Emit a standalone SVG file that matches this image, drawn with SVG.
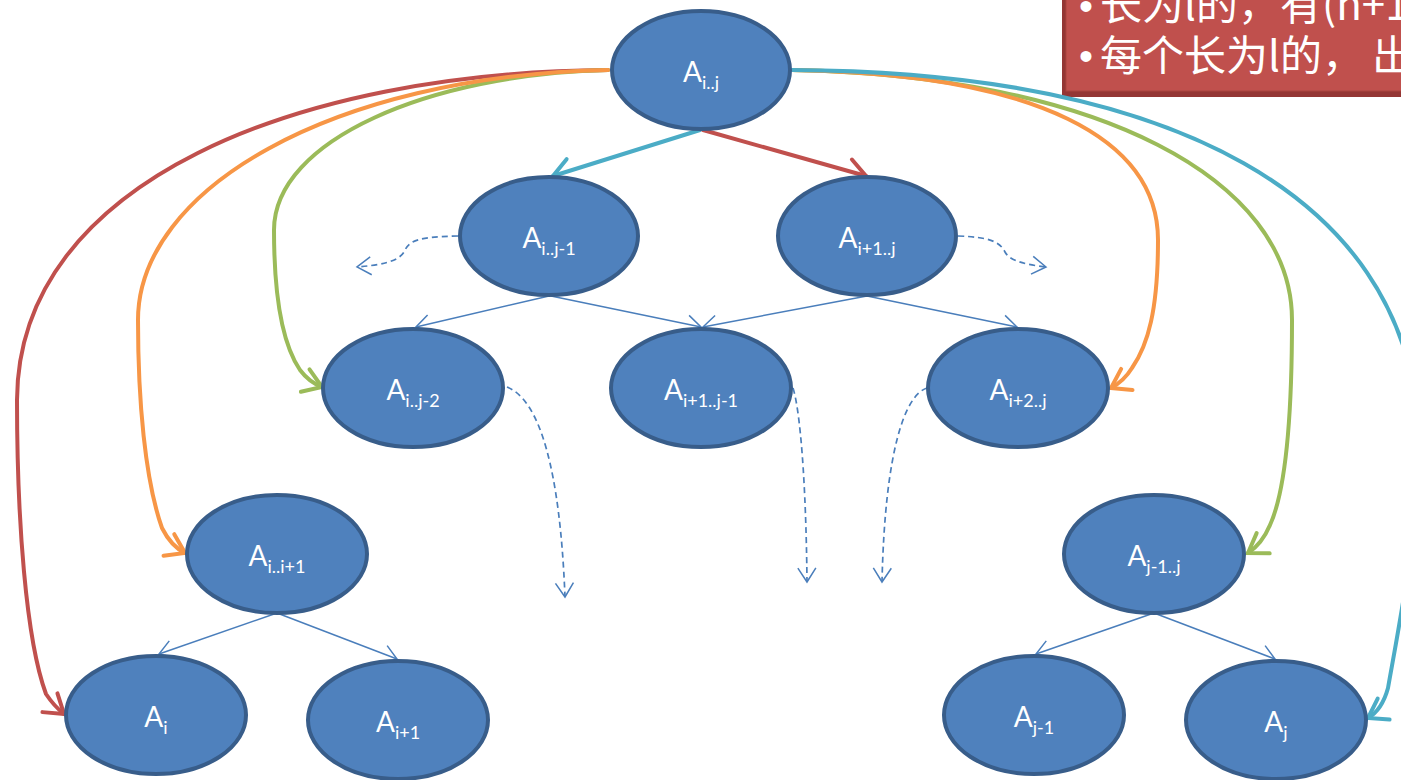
<svg xmlns="http://www.w3.org/2000/svg" width="1401" height="780" viewBox="0 0 1401 780">
<style>
.node ellipse{fill:#4F81BD;stroke:#385D8A;stroke-width:4}
.node text{font-family:Lato,"Open Sans","Liberation Sans",sans-serif;font-size:28px;fill:#FFFFFF;text-anchor:middle}
.node tspan{font-size:18px}
.thick{fill:none;stroke-width:4;stroke-linecap:round}
.thin{fill:none;stroke:#4A7EBB;stroke-width:1.5}
.dash{fill:none;stroke:#4A7EBB;stroke-width:1.7;stroke-dasharray:6 4}
.note{font-family:"Noto Sans CJK SC","Liberation Sans",sans-serif;font-size:42px;fill:#FFFFFF}
.bullet{font-family:"Liberation Sans",sans-serif;font-size:40px;fill:#FFFFFF}
</style>
<defs>
<marker id="mThin" markerUnits="userSpaceOnUse" markerWidth="30" markerHeight="30" refX="0" refY="0" orient="auto" overflow="visible">
<path d="M -14 -9 L 0 0 L -14 9" fill="none" stroke="#4A7EBB" stroke-width="1.5" stroke-dasharray="none"/>
</marker>
<marker id="mRed" markerUnits="userSpaceOnUse" markerWidth="30" markerHeight="30" refX="0" refY="0" orient="auto" overflow="visible">
<path d="M -18 -12 L 0 0 L -18 12" fill="none" stroke="#C0504D" stroke-width="4" stroke-linecap="round"/>
</marker>
<marker id="mOrange" markerUnits="userSpaceOnUse" markerWidth="30" markerHeight="30" refX="0" refY="0" orient="auto" overflow="visible">
<path d="M -18 -12 L 0 0 L -18 12" fill="none" stroke="#F79646" stroke-width="4" stroke-linecap="round"/>
</marker>
<marker id="mGreen" markerUnits="userSpaceOnUse" markerWidth="30" markerHeight="30" refX="0" refY="0" orient="auto" overflow="visible">
<path d="M -18 -12 L 0 0 L -18 12" fill="none" stroke="#9BBB59" stroke-width="4" stroke-linecap="round"/>
</marker>
<marker id="mCyan" markerUnits="userSpaceOnUse" markerWidth="30" markerHeight="30" refX="0" refY="0" orient="auto" overflow="visible">
<path d="M -18 -12 L 0 0 L -18 12" fill="none" stroke="#4BACC6" stroke-width="4" stroke-linecap="round"/>
</marker>
</defs>
<rect width="1401" height="780" fill="#FFFFFF"/>

<g id="note">
<rect x="1062" y="-20" width="400" height="117" fill="#943634"/>
<rect x="1066" y="-20" width="400" height="111" fill="#C0504D" stroke="#A9443F" stroke-width="1"/>
<text class="bullet" x="1079" y="20">•</text>
<text class="note" y="20"><tspan x="1100">长为l的，</tspan><tspan x="1280">有(n+1</tspan></text>
<text class="bullet" x="1079" y="70">•</text>
<text class="note" y="71"><tspan x="1100">每个长为l的，</tspan><tspan x="1372">出</tspan></text>
</g>

<g id="connectors">
<path class="thin" d="M 549 296 L 416 327" marker-end="url(#mThin)"/>
<path class="thin" d="M 551 296 L 701 327" marker-end="url(#mThin)"/>
<path class="thin" d="M 867 296 L 703 327" marker-end="url(#mThin)"/>
<path class="thin" d="M 867 296 L 1017 327" marker-end="url(#mThin)"/>
<path class="thin" d="M 277 613 L 159 654" marker-end="url(#mThin)"/>
<path class="thin" d="M 277 613 L 397 659" marker-end="url(#mThin)"/>
<path class="thin" d="M 1154 613 L 1036 654" marker-end="url(#mThin)"/>
<path class="thin" d="M 1154 613 L 1275 659" marker-end="url(#mThin)"/>

<path class="dash" d="M 458 236 C 420 237 410 240 405 250 C 400 262 380 265 357 267" marker-end="url(#mThin)"/>
<path class="dash" d="M 958 236 C 990 237 1000 242 1005 252 C 1010 262 1030 265 1046 267" marker-end="url(#mThin)"/>
<path class="dash" d="M 507 387 C 540 400 560 470 565 597" marker-end="url(#mThin)"/>
<path class="dash" d="M 793 388 C 800 410 806 480 807 582" marker-end="url(#mThin)"/>
<path class="dash" d="M 927 388 C 905 395 885 450 882 582" marker-end="url(#mThin)"/>

<path class="thick" stroke="#4BACC6" d="M 700 130 L 553 176" marker-end="url(#mCyan)"/>
<path class="thick" stroke="#C0504D" d="M 703 130 L 866 176" marker-end="url(#mRed)"/>

<path class="thick" stroke="#C0504D" d="M 608 70 C 300 72 18 180 17 400 C 17 520 26 640 46 694 Q 54 706 64 714" marker-end="url(#mRed)"/>
<path class="thick" stroke="#9BBB59" d="M 608 70 C 430 74 274 140 274 230 C 274 300 283 345 300 370 Q 309 382 322 387" marker-end="url(#mGreen)"/>
<path class="thick" stroke="#F79646" d="M 608 70 C 330 76 138 190 138 320 C 138 400 145 480 162 528 Q 171 546 185 553" marker-end="url(#mOrange)"/>

<path class="thick" stroke="#9BBB59" d="M 792 70 C 1100 76 1292 180 1292 320 C 1292 420 1286 490 1270 525 Q 1262 544 1248 553" marker-end="url(#mGreen)"/>
<path class="thick" stroke="#F79646" d="M 792 70 C 1040 74 1158 140 1158 240 C 1158 310 1148 345 1132 368 Q 1124 381 1111 388" marker-end="url(#mOrange)"/>
<path class="thick" stroke="#4BACC6" d="M 792 70 C 1180 72 1400 200 1418 420 C 1424 500 1400 620 1388 688 Q 1382 710 1368 718" marker-end="url(#mCyan)"/>
</g>

<g id="n_ij" class="node"><ellipse cx="701" cy="70" rx="89" ry="59"/><text x="701" y="82">A<tspan dy="7">i..j</tspan></text></g>
<g id="n_ij1" class="node"><ellipse cx="549" cy="236" rx="89" ry="59"/><text x="549" y="248">A<tspan dy="7">i..j-1</tspan></text></g>
<g id="n_i1j" class="node"><ellipse cx="867" cy="236" rx="89" ry="59"/><text x="867" y="248">A<tspan dy="7">i+1..j</tspan></text></g>
<g id="n_ij2" class="node"><ellipse cx="413" cy="388" rx="90" ry="59"/><text x="413" y="400">A<tspan dy="7">i..j-2</tspan></text></g>
<g id="n_i1j1" class="node"><ellipse cx="701" cy="388" rx="90" ry="59"/><text x="701" y="400">A<tspan dy="7">i+1..j-1</tspan></text></g>
<g id="n_i2j" class="node"><ellipse cx="1018" cy="388" rx="90" ry="59"/><text x="1018" y="400">A<tspan dy="7">i+2..j</tspan></text></g>
<g id="n_ii1" class="node"><ellipse cx="277" cy="554" rx="90" ry="59"/><text x="277" y="566">A<tspan dy="7">i..i+1</tspan></text></g>
<g id="n_j1j" class="node"><ellipse cx="1154" cy="554" rx="90" ry="59"/><text x="1154" y="566">A<tspan dy="7">j-1..j</tspan></text></g>
<g id="n_i" class="node"><ellipse cx="156" cy="715" rx="90" ry="59"/><text x="156" y="727">A<tspan dy="7">i</tspan></text></g>
<g id="n_i1" class="node"><ellipse cx="398" cy="720" rx="90" ry="59"/><text x="398" y="732">A<tspan dy="7">i+1</tspan></text></g>
<g id="n_j1" class="node"><ellipse cx="1034" cy="715" rx="90" ry="59"/><text x="1034" y="727">A<tspan dy="7">j-1</tspan></text></g>
<g id="n_j" class="node"><ellipse cx="1276" cy="720" rx="90" ry="59"/><text x="1276" y="732">A<tspan dy="7">j</tspan></text></g>
</svg>
